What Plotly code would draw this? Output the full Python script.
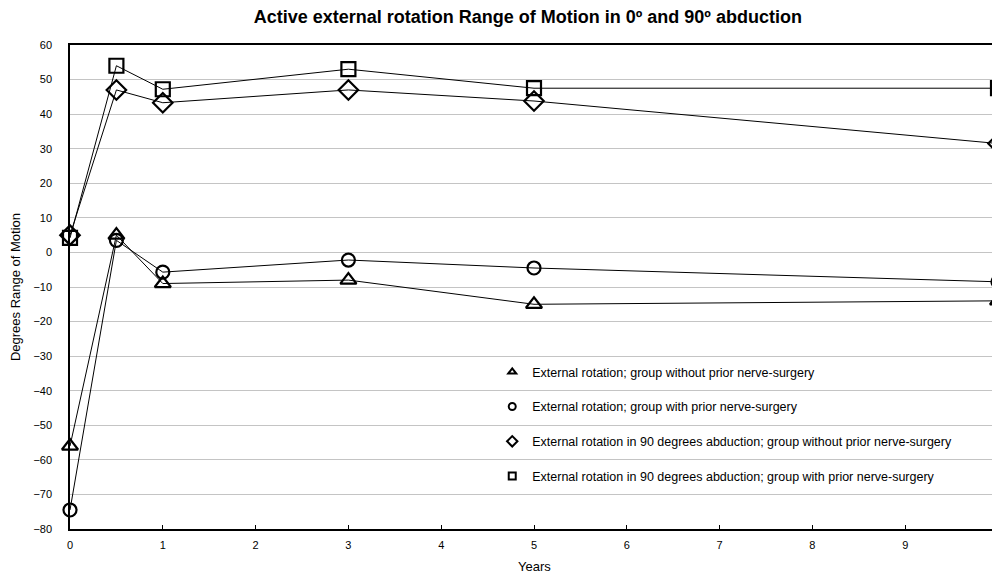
import plotly.graph_objects as go

years = [0, 0.5, 1, 3, 5, 10]
er_without = [-56, 5, -9, -8, -15, -14]
er_with = [-74.5, 3.5, -5.7, -2.2, -4.5, -8.5]
abd_without = [5, 47, 43.3, 47, 43.8, 31.5]
abd_with = [4.2, 54, 47.2, 53, 47.5, 47.5]

names = [
    "External rotation; group without prior nerve-surgery",
    "External rotation; group with prior nerve-surgery",
    "External rotation in 90 degrees abduction; group without prior nerve-surgery",
    "External rotation in 90 degrees abduction; group with prior nerve-surgery",
]
series = [er_without, er_with, abd_without, abd_with]
symbols = ["triangle-up-open", "circle-open", "diamond-open", "square-open"]
sizes = [14, 13, 15, 14]
leg_sizes = [7, 7, 8, 7]

font = "Liberation Sans, Arial, Helvetica, sans-serif"
fig = go.Figure()
for i, (nm, ys) in enumerate(zip(names, series)):
    fig.add_trace(go.Scatter(
        x=years, y=ys, mode="lines+markers", showlegend=False,
        line=dict(color="black", width=1),
        marker=dict(symbol=symbols[i], size=sizes[i], color="black",
                    line=dict(color="black", width=2.2)),
        cliponaxis=False,
    ))
for i, nm in enumerate(names):
    fig.add_trace(go.Scatter(
        x=[None], y=[None], mode="markers", name=nm, legendgroup=f"g{i}",
        marker=dict(symbol=symbols[i], size=leg_sizes[i], color="black",
                    line=dict(color="black", width=2)),
    ))

fig.update_layout(
    width=992, height=567,
    margin=dict(l=62, r=2, t=37, b=46, autoexpand=False),
    paper_bgcolor="white", plot_bgcolor="white",
    font=dict(family=font, size=11, color="black"),
    title=dict(text="<b>Active external rotation Range of Motion in 0º and 90º abduction</b>",
               x=0.524, xanchor="center", xref="container",
               y=1 - 9 / 567, yanchor="middle", yref="container",
               font=dict(size=18, family=font)),
    legend=dict(x=0.455, y=0.355, xanchor="left", yanchor="top",
                bgcolor="rgba(0,0,0,0)", font=dict(size=12.5, family=font),
                tracegroupgap=15.5, itemwidth=30),
    showlegend=True,
)
fig.update_xaxes(
    range=[0, 10], tickmode="array", tickvals=list(range(11)),
    ticktext=[str(v) for v in range(11)], automargin=False,
    ticklabeloverflow="allow",
    showgrid=False, showline=True, linecolor="black", linewidth=1.5,
    mirror=True, ticks="inside", ticklen=4, tickcolor="black",
    tickfont=dict(size=11), zeroline=False, ticklabelstandoff=5,
)
fig.add_annotation(text="Years", xref="paper", yref="paper", x=0.501, y=0,
                   yshift=-37, xanchor="center", yanchor="middle",
                   showarrow=False, font=dict(size=13, family=font))
fig.update_yaxes(
    range=[-80, 60], tickmode="array", tickvals=list(range(-80, 61, 10)),
    showgrid=True, gridcolor="#c4c4c4", gridwidth=1, automargin=False,
    showline=True, linecolor="black", linewidth=1.5,
    ticks="", tickfont=dict(size=11), zeroline=False, ticklabelstandoff=14,
    title=dict(text="Degrees Range of Motion", font=dict(size=13), standoff=12),
)
fig.add_shape(type="line", xref="paper", yref="paper", x0=1, x1=1, y0=0, y1=1,
              line=dict(color="#aaaaaa", width=1))
fig.write_html("out.html")
